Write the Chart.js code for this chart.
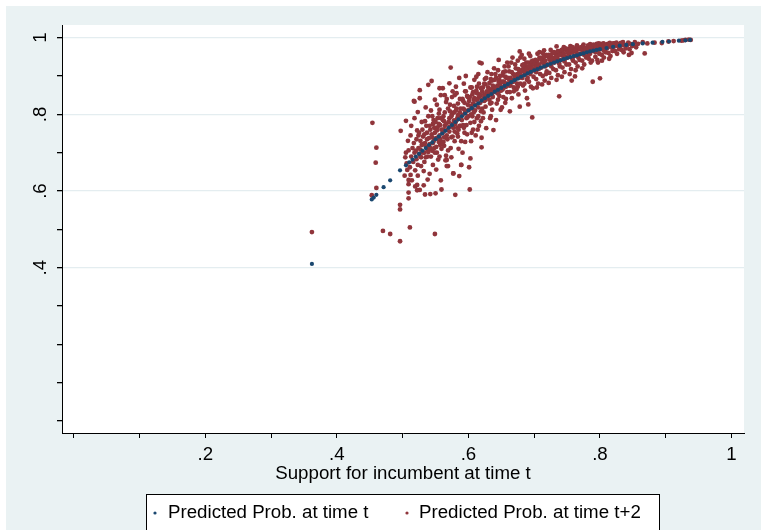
<!DOCTYPE html>
<html>
<head>
<meta charset="utf-8">
<script src="https://cdn.jsdelivr.net/npm/chart.js@4.4.1/dist/chart.umd.min.js"></script>
<style>
  body { margin: 0; background: #fff; }
  canvas { display: block; }
</style>
</head>
<body>
<canvas id="probChart" width="761" height="530"></canvas>
<script>
// Tick values and the ones that get a label / grid line
const xTicks = [0, 0.1, 0.2, 0.3, 0.4, 0.5, 0.6, 0.7, 0.8, 0.9, 1];
const xLabeled = [0.2, 0.4, 0.6, 0.8, 1];
const yTicks = [0, 0.1, 0.2, 0.3, 0.4, 0.5, 0.6, 0.7, 0.8, 0.9, 1];
const yLabeled = [0.4, 0.6, 0.8, 1];

const seriesNames = ['Predicted Prob. at time t', 'Predicted Prob. at time t+2'];

// Predicted prob. at time t  [support, prob]
const probT = [
    [0.362, 0.410], [0.453, 0.578], [0.456, 0.583], [0.460, 0.590], [0.471, 0.610], [0.481, 0.628], [0.496, 0.654],
    [0.505, 0.667], [0.510, 0.675], [0.515, 0.682], [0.520, 0.690], [0.525, 0.697], [0.530, 0.705], [0.535, 0.712],
    [0.540, 0.720], [0.545, 0.727], [0.550, 0.735], [0.555, 0.742], [0.560, 0.750], [0.565, 0.757], [0.570, 0.765],
    [0.575, 0.772], [0.580, 0.780], [0.585, 0.787], [0.590, 0.795], [0.595, 0.802], [0.600, 0.810], [0.605, 0.816],
    [0.610, 0.823], [0.615, 0.829], [0.620, 0.836], [0.625, 0.842], [0.630, 0.848], [0.635, 0.853], [0.640, 0.859],
    [0.645, 0.864], [0.650, 0.869], [0.655, 0.874], [0.660, 0.879], [0.665, 0.884], [0.670, 0.889], [0.675, 0.893],
    [0.680, 0.898], [0.685, 0.902], [0.690, 0.907], [0.695, 0.911], [0.700, 0.915], [0.705, 0.918], [0.710, 0.922],
    [0.715, 0.925], [0.720, 0.929], [0.725, 0.932], [0.730, 0.935], [0.735, 0.938], [0.740, 0.941], [0.745, 0.944],
    [0.750, 0.947], [0.755, 0.949], [0.760, 0.952], [0.765, 0.954], [0.770, 0.957], [0.775, 0.959], [0.780, 0.962],
    [0.785, 0.964], [0.790, 0.966], [0.795, 0.968], [0.800, 0.970], [0.810, 0.973], [0.820, 0.976], [0.830, 0.979],
    [0.840, 0.981], [0.850, 0.983], [0.865, 0.985], [0.880, 0.987], [0.895, 0.989], [0.905, 0.990], [0.920, 0.992],
    [0.930, 0.993], [0.937, 0.994]
];

// Predicted prob. at time t+2  [support, prob]
const probT2 = [
    [0.362, 0.493], [0.454, 0.778], [0.460, 0.713], [0.459, 0.674], [0.460, 0.608], [0.453, 0.589], [0.470, 0.496],
    [0.481, 0.488], [0.496, 0.469], [0.496, 0.564], [0.496, 0.552], [0.511, 0.505], [0.549, 0.488], [0.509, 0.596],
    [0.509, 0.581], [0.497, 0.757], [0.505, 0.783], [0.518, 0.790], [0.522, 0.616], [0.526, 0.603], [0.534, 0.591],
    [0.550, 0.594], [0.559, 0.604], [0.509, 0.629], [0.512, 0.642], [0.580, 0.590], [0.577, 0.646], [0.589, 0.668],
    [0.567, 0.681], [0.569, 0.665], [0.539, 0.877], [0.556, 0.868], [0.526, 0.842], [0.518, 0.833],
    [0.503, 0.640], [0.505, 0.700], [0.506, 0.672], [0.507, 0.655], [0.508, 0.731], [0.509, 0.618], [0.504, 0.688], [0.509, 0.706],
    [0.511, 0.662], [0.512, 0.745], [0.513, 0.690], [0.514, 0.628], [0.515, 0.712], [0.516, 0.676], [0.517, 0.835], [0.518, 0.700],
    [0.519, 0.654], [0.513, 0.770], [0.517, 0.725], [0.519, 0.612],
    [0.521, 0.683], [0.522, 0.758], [0.523, 0.640], [0.524, 0.712], [0.525, 0.697], [0.526, 0.863], [0.527, 0.731], [0.528, 0.665],
    [0.529, 0.780], [0.522, 0.602], [0.524, 0.745], [0.527, 0.690], [0.529, 0.720], [0.523, 0.806],
    [0.531, 0.700], [0.532, 0.652], [0.533, 0.748], [0.534, 0.725], [0.535, 0.688], [0.536, 0.770], [0.537, 0.710], [0.538, 0.630],
    [0.539, 0.795], [0.531, 0.742], [0.533, 0.676], [0.535, 0.818], [0.537, 0.735], [0.539, 0.702], [0.532, 0.615],
    [0.541, 0.722], [0.542, 0.760], [0.543, 0.690], [0.544, 0.887], [0.545, 0.740], [0.546, 0.668], [0.547, 0.785], [0.548, 0.712],
    [0.549, 0.752], [0.541, 0.645], [0.543, 0.810], [0.545, 0.705], [0.547, 0.730], [0.549, 0.838], [0.542, 0.592], [0.546, 0.775],
    [0.551, 0.738], [0.552, 0.700], [0.553, 0.766], [0.554, 0.682], [0.555, 0.802], [0.556, 0.745], [0.557, 0.720], [0.558, 0.850],
    [0.559, 0.760], [0.551, 0.656], [0.553, 0.790], [0.555, 0.728], [0.557, 0.772], [0.559, 0.710], [0.552, 0.825], [0.556, 0.690],
    [0.558, 0.628],
    [0.561, 0.752], [0.562, 0.795], [0.563, 0.718], [0.564, 0.770], [0.565, 0.680], [0.566, 0.832], [0.567, 0.745], [0.568, 0.760],
    [0.569, 0.706], [0.561, 0.868], [0.563, 0.782], [0.565, 0.740], [0.567, 0.665], [0.569, 0.815], [0.562, 0.728], [0.564, 0.850],
    [0.566, 0.692],
    [0.571, 0.881], [0.572, 0.768], [0.573, 0.922], [0.574, 0.740], [0.575, 0.800], [0.576, 0.776], [0.577, 0.646], [0.578, 0.822],
    [0.579, 0.755], [0.571, 0.790], [0.573, 0.712], [0.575, 0.845], [0.577, 0.765], [0.579, 0.730], [0.572, 0.808], [0.574, 0.688],
    [0.576, 0.860], [0.578, 0.784],
    [0.581, 0.782], [0.582, 0.815], [0.583, 0.750], [0.584, 0.798], [0.585, 0.710], [0.586, 0.639], [0.587, 0.840], [0.588, 0.770],
    [0.589, 0.668], [0.581, 0.872], [0.583, 0.790], [0.585, 0.760], [0.587, 0.805], [0.589, 0.730], [0.582, 0.855], [0.584, 0.742],
    [0.586, 0.895],
    [0.591, 0.798], [0.592, 0.835], [0.593, 0.765], [0.594, 0.812], [0.595, 0.728], [0.596, 0.860], [0.597, 0.790], [0.598, 0.748],
    [0.599, 0.825], [0.591, 0.700], [0.593, 0.880], [0.595, 0.805], [0.597, 0.772], [0.599, 0.845], [0.592, 0.815], [0.594, 0.752],
    [0.596, 0.900], [0.598, 0.792],
    [0.601, 0.662], [0.602, 0.604], [0.603, 0.685], [0.601, 0.812], [0.602, 0.845], [0.603, 0.778], [0.604, 0.822], [0.605, 0.870],
    [0.606, 0.795], [0.607, 0.760], [0.608, 0.838], [0.609, 0.890], [0.604, 0.730], [0.606, 0.815], [0.608, 0.805], [0.605, 0.752],
    [0.607, 0.858], [0.609, 0.780],
    [0.611, 0.825], [0.612, 0.862], [0.613, 0.790], [0.614, 0.840], [0.615, 0.905], [0.616, 0.770], [0.617, 0.935], [0.618, 0.830],
    [0.619, 0.808], [0.611, 0.745], [0.613, 0.872], [0.615, 0.818], [0.617, 0.852], [0.619, 0.782], [0.612, 0.898], [0.614, 0.760],
    [0.616, 0.845],
    [0.620, 0.714], [0.620, 0.739], [0.620, 0.933], [0.621, 0.838], [0.622, 0.870], [0.623, 0.805], [0.624, 0.852], [0.625, 0.892],
    [0.626, 0.820], [0.627, 0.764], [0.628, 0.860], [0.629, 0.910], [0.622, 0.790], [0.624, 0.835], [0.626, 0.878], [0.628, 0.845],
    [0.621, 0.815],
    [0.633, 0.790], [0.638, 0.759], [0.631, 0.850], [0.632, 0.882], [0.633, 0.828], [0.634, 0.865], [0.635, 0.905], [0.636, 0.812],
    [0.637, 0.845], [0.638, 0.872], [0.639, 0.920], [0.632, 0.838], [0.634, 0.795], [0.636, 0.888], [0.638, 0.858], [0.635, 0.830],
    [0.641, 0.860], [0.642, 0.895], [0.643, 0.828], [0.644, 0.875], [0.645, 0.915], [0.646, 0.942], [0.647, 0.848], [0.648, 0.880],
    [0.649, 0.812], [0.641, 0.905], [0.643, 0.866], [0.645, 0.838], [0.647, 0.890], [0.649, 0.870], [0.642, 0.785], [0.646, 0.858],
    [0.651, 0.870], [0.652, 0.902], [0.653, 0.845], [0.654, 0.885], [0.655, 0.925], [0.656, 0.830], [0.657, 0.872], [0.658, 0.895],
    [0.659, 0.858], [0.651, 0.818], [0.653, 0.910], [0.655, 0.880], [0.657, 0.840], [0.659, 0.935], [0.652, 0.865], [0.656, 0.898],
    [0.661, 0.880], [0.662, 0.912], [0.663, 0.858], [0.664, 0.895], [0.665, 0.935], [0.666, 0.842], [0.667, 0.885], [0.668, 0.905],
    [0.669, 0.870], [0.661, 0.925], [0.663, 0.808], [0.665, 0.890], [0.667, 0.948], [0.669, 0.860], [0.662, 0.875],
    [0.671, 0.890], [0.672, 0.920], [0.673, 0.865], [0.674, 0.905], [0.675, 0.940], [0.676, 0.852], [0.677, 0.895], [0.678, 0.964],
    [0.678, 0.820], [0.679, 0.880], [0.671, 0.930], [0.673, 0.900], [0.675, 0.872], [0.677, 0.915], [0.679, 0.948],
    [0.681, 0.900], [0.682, 0.928], [0.683, 0.875], [0.684, 0.912], [0.685, 0.945], [0.686, 0.862], [0.687, 0.905], [0.688, 0.935],
    [0.689, 0.890], [0.681, 0.955], [0.683, 0.918], [0.685, 0.880], [0.687, 0.925], [0.689, 0.842], [0.691, 0.826],
    [0.690, 0.908], [0.691, 0.935], [0.692, 0.885], [0.693, 0.920], [0.694, 0.952], [0.695, 0.872], [0.696, 0.912], [0.697, 0.792],
    [0.698, 0.940], [0.699, 0.898], [0.692, 0.958], [0.694, 0.905], [0.696, 0.930], [0.698, 0.868], [0.695, 0.922],
    [0.701, 0.915], [0.702, 0.942], [0.703, 0.892], [0.704, 0.928], [0.705, 0.958], [0.706, 0.880], [0.707, 0.918], [0.708, 0.948],
    [0.709, 0.905], [0.702, 0.935], [0.704, 0.870], [0.706, 0.925], [0.708, 0.962], [0.703, 0.910],
    [0.711, 0.922], [0.712, 0.948], [0.713, 0.900], [0.714, 0.935], [0.715, 0.967], [0.716, 0.888], [0.717, 0.925], [0.718, 0.955],
    [0.719, 0.912], [0.712, 0.878], [0.714, 0.942], [0.716, 0.930], [0.718, 0.905], [0.713, 0.960],
    [0.721, 0.930], [0.722, 0.955], [0.723, 0.908], [0.724, 0.942], [0.725, 0.968], [0.726, 0.895], [0.727, 0.935], [0.728, 0.960],
    [0.729, 0.918], [0.722, 0.882], [0.724, 0.948], [0.726, 0.925], [0.728, 0.940],
    [0.731, 0.935], [0.732, 0.960], [0.733, 0.915], [0.734, 0.977], [0.735, 0.948], [0.736, 0.902], [0.737, 0.940], [0.738, 0.847],
    [0.738, 0.965], [0.739, 0.925], [0.732, 0.945], [0.734, 0.890], [0.736, 0.955], [0.738, 0.932],
    [0.741, 0.942], [0.742, 0.965], [0.743, 0.922], [0.744, 0.952], [0.745, 0.975], [0.746, 0.910], [0.747, 0.945], [0.748, 0.968],
    [0.749, 0.930], [0.742, 0.898], [0.744, 0.958], [0.746, 0.938], [0.748, 0.950],
    [0.751, 0.948], [0.752, 0.970], [0.753, 0.930], [0.754, 0.958], [0.755, 0.978], [0.756, 0.918], [0.757, 0.888], [0.758, 0.962],
    [0.759, 0.940], [0.752, 0.955], [0.754, 0.905], [0.756, 0.972], [0.758, 0.945],
    [0.762, 0.899], [0.761, 0.952], [0.762, 0.972], [0.763, 0.935], [0.764, 0.962], [0.765, 0.980], [0.766, 0.925], [0.767, 0.955],
    [0.768, 0.970], [0.769, 0.942], [0.763, 0.915], [0.765, 0.958], [0.767, 0.948],
    [0.771, 0.958], [0.772, 0.975], [0.773, 0.940], [0.774, 0.966], [0.775, 0.982], [0.776, 0.930], [0.777, 0.960], [0.778, 0.972],
    [0.779, 0.948], [0.773, 0.920], [0.776, 0.955], [0.778, 0.968],
    [0.781, 0.962], [0.782, 0.978], [0.783, 0.945], [0.784, 0.970], [0.785, 0.983], [0.786, 0.935], [0.787, 0.965], [0.788, 0.975],
    [0.789, 0.885], [0.782, 0.952], [0.785, 0.958], [0.788, 0.940],
    [0.791, 0.966], [0.792, 0.980], [0.793, 0.950], [0.794, 0.972], [0.795, 0.984], [0.796, 0.942], [0.797, 0.968], [0.798, 0.977],
    [0.799, 0.958], [0.800, 0.894], [0.800, 0.984], [0.793, 0.962], [0.797, 0.935],
    [0.801, 0.970], [0.802, 0.982], [0.803, 0.955], [0.804, 0.975], [0.805, 0.985], [0.806, 0.948], [0.807, 0.972], [0.808, 0.980],
    [0.809, 0.962], [0.803, 0.940], [0.806, 0.966],
    [0.811, 0.973], [0.812, 0.984], [0.813, 0.960], [0.814, 0.978], [0.815, 0.986], [0.816, 0.952], [0.817, 0.975], [0.818, 0.982],
    [0.819, 0.965], [0.814, 0.945],
    [0.821, 0.976], [0.822, 0.985], [0.823, 0.965], [0.824, 0.980], [0.825, 0.987], [0.826, 0.958], [0.827, 0.978], [0.828, 0.983],
    [0.829, 0.970],
    [0.831, 0.978], [0.832, 0.986], [0.833, 0.968], [0.834, 0.982], [0.835, 0.988], [0.836, 0.962], [0.837, 0.980], [0.839, 0.972],
    [0.841, 0.980], [0.843, 0.987], [0.844, 0.955], [0.845, 0.970], [0.846, 0.984], [0.848, 0.960], [0.849, 0.978], [0.851, 0.982],
    [0.853, 0.988], [0.855, 0.975], [0.858, 0.984],
    [0.865, 0.988], [0.868, 0.959], [0.872, 0.985], [0.883, 0.987], [0.894, 0.986], [0.904, 0.990], [0.912, 0.991], [0.924, 0.992],
    [0.930, 0.994], [0.938, 0.994], [0.927, 0.993], [0.935, 0.995],
    // denser core of the cloud
    [0.520, 0.705], [0.521, 0.735], [0.523, 0.668], [0.525, 0.752], [0.527, 0.708], [0.528, 0.688], [0.530, 0.760], [0.531, 0.722],
    [0.533, 0.700], [0.534, 0.782], [0.536, 0.715], [0.537, 0.752], [0.538, 0.690], [0.540, 0.738], [0.541, 0.770], [0.542, 0.712],
    [0.544, 0.748], [0.545, 0.795], [0.546, 0.725], [0.548, 0.765], [0.549, 0.700], [0.550, 0.780], [0.551, 0.715], [0.552, 0.758],
    [0.554, 0.740], [0.555, 0.775], [0.556, 0.812], [0.557, 0.735], [0.558, 0.790], [0.560, 0.725], [0.561, 0.785], [0.562, 0.760],
    [0.563, 0.740], [0.564, 0.805], [0.566, 0.775], [0.567, 0.840], [0.568, 0.735], [0.570, 0.780], [0.571, 0.755], [0.572, 0.825],
    [0.574, 0.795], [0.575, 0.770], [0.576, 0.742], [0.578, 0.805], [0.579, 0.850], [0.580, 0.775], [0.581, 0.810], [0.583, 0.765],
    [0.584, 0.828], [0.586, 0.790], [0.587, 0.770], [0.588, 0.815], [0.590, 0.785], [0.591, 0.840], [0.592, 0.772], [0.594, 0.830],
    [0.595, 0.860], [0.597, 0.808], [0.598, 0.848], [0.600, 0.795], [0.601, 0.835], [0.603, 0.870], [0.604, 0.800], [0.606, 0.852],
    [0.607, 0.828], [0.609, 0.842], [0.610, 0.810], [0.612, 0.838], [0.613, 0.855], [0.615, 0.795], [0.616, 0.880], [0.618, 0.850],
    [0.619, 0.868], [0.621, 0.860], [0.623, 0.842], [0.624, 0.880], [0.626, 0.838], [0.627, 0.895], [0.629, 0.852], [0.630, 0.870],
    [0.632, 0.860], [0.634, 0.892], [0.636, 0.850], [0.637, 0.875], [0.639, 0.865], [0.640, 0.890], [0.642, 0.870], [0.644, 0.855],
    [0.646, 0.885], [0.648, 0.900], [0.650, 0.862], [0.652, 0.885], [0.654, 0.870], [0.656, 0.912], [0.658, 0.880], [0.660, 0.895],
    [0.662, 0.890], [0.664, 0.875], [0.666, 0.910], [0.668, 0.885], [0.670, 0.900], [0.672, 0.895], [0.674, 0.880], [0.676, 0.918],
    [0.678, 0.905], [0.680, 0.912], [0.682, 0.895], [0.684, 0.930], [0.686, 0.908], [0.688, 0.918], [0.690, 0.895], [0.692, 0.925],
    [0.694, 0.915], [0.696, 0.938], [0.698, 0.920], [0.700, 0.930], [0.703, 0.925], [0.705, 0.940], [0.707, 0.930], [0.710, 0.945],
    [0.712, 0.935], [0.715, 0.950], [0.717, 0.940], [0.720, 0.952], [0.723, 0.945], [0.725, 0.955], [0.728, 0.948], [0.730, 0.962],
    [0.733, 0.950], [0.736, 0.965], [0.739, 0.955], [0.742, 0.968], [0.745, 0.958], [0.748, 0.972], [0.751, 0.962], [0.755, 0.968],
    [0.758, 0.975], [0.762, 0.966], [0.766, 0.976], [0.770, 0.970], [0.774, 0.978], [0.778, 0.972], [0.782, 0.980], [0.786, 0.975],
    [0.790, 0.982], [0.794, 0.978], [0.798, 0.985], [0.802, 0.978], [0.806, 0.984], [0.810, 0.980], [0.815, 0.983], [0.820, 0.985],
    [0.826, 0.982], [0.832, 0.985]
];

const NAVY = '#1a476f';
const MAROON = '#90353b';
const BG = '#eaf2f3';
const FONT = "'Liberation Sans', Arial, sans-serif";

function fmt(v) {
    return String(v).replace(/^0\./, '.');
}

function isLabeled(list, v) {
    return list.some(l => Math.abs(l - v) < 1e-9);
}

// graph region + plot region backgrounds, legend box
const stataLook = {
    id: 'stataLook',
    beforeDraw(chart) {
        const { ctx, chartArea } = chart;
        ctx.save();
        ctx.fillStyle = '#fff';
        ctx.fillRect(0, 0, chart.width, chart.height);
        ctx.fillStyle = BG;
        ctx.fillRect(6, 6, chart.width - 6, chart.height - 6);
        ctx.fillStyle = '#fff';
        ctx.fillRect(chartArea.left, chartArea.top, chartArea.right - chartArea.left, chartArea.bottom - chartArea.top);
        ctx.restore();
    },
    afterDraw(chart) {
        const ctx = chart.ctx;
        ctx.save();
        ctx.fillStyle = '#fff';
        ctx.fillRect(146.5, 494.5, 513, 50);
        ctx.strokeStyle = '#000';
        ctx.lineWidth = 1;
        ctx.strokeRect(146.5, 494.5, 513, 50);

        ctx.font = '18.7px ' + FONT;
        ctx.textBaseline = 'middle';
        const items = [
            { color: NAVY, dot: 155, text: 168 },
            { color: MAROON, dot: 407, text: 419 }
        ];
        items.forEach((it, i) => {
            ctx.beginPath();
            ctx.fillStyle = it.color;
            ctx.arc(it.dot, 513, 1.6, 0, Math.PI * 2);
            ctx.fill();
            ctx.fillStyle = '#000';
            ctx.fillText(seriesNames[i], it.text, 513);
        });
        ctx.restore();
    }
};

const ctx = document.getElementById('probChart').getContext('2d');
new Chart(ctx, {
    type: 'scatter',
    data: {
        datasets: [
            {
                label: seriesNames[0],
                data: probT.map(p => ({ x: p[0], y: p[1] })),
                backgroundColor: NAVY,
                borderWidth: 0,
                pointRadius: 2.1
            },
            {
                label: seriesNames[1],
                data: probT2.map(p => ({ x: p[0], y: p[1] })),
                backgroundColor: MAROON,
                borderWidth: 0,
                pointRadius: 2.4
            }
        ]
    },
    options: {
        responsive: false,
        animation: false,
        layout: { padding: { left: 6, top: 25, right: 17, bottom: 40 } },
        plugins: {
            legend: { display: false },
            tooltip: { enabled: false }
        },
        scales: {
            x: {
                type: 'linear',
                min: -0.018,
                max: 1.019,
                afterBuildTicks: scale => { scale.ticks = xTicks.map(v => ({ value: v })); },
                afterFit: scale => { scale.height = 57; },
                border: { color: '#000', width: 1 },
                grid: { drawOnChartArea: false, tickLength: 5, tickColor: '#000' },
                ticks: {
                    autoSkip: false,
                    maxRotation: 0,
                    padding: 6,
                    color: '#000',
                    font: { family: FONT, size: 18.7 },
                    callback: v => isLabeled(xLabeled, v) ? fmt(v) : ''
                },
                title: {
                    display: true,
                    text: 'Support for incumbent at time t',
                    color: '#000',
                    font: { family: FONT, size: 18.7 },
                    padding: { top: 0, bottom: 5 }
                }
            },
            y: {
                type: 'linear',
                min: -0.031,
                max: 1.033,
                afterBuildTicks: scale => { scale.ticks = yTicks.map(v => ({ value: v })); },
                afterFit: scale => { scale.width = 56; },
                border: { color: '#000', width: 1 },
                grid: {
                    tickLength: 5,
                    tickColor: '#000',
                    lineWidth: 1.3,
                    color: c => (c.tick && isLabeled(yLabeled, c.tick.value)) ? '#e4edf0' : 'rgba(0,0,0,0)'
                },
                ticks: {
                    autoSkip: false,
                    minRotation: 90,
                    maxRotation: 90,
                    crossAlign: 'center',
                    padding: 8,
                    color: '#000',
                    font: { family: FONT, size: 18.7 },
                    callback: v => isLabeled(yLabeled, v) ? fmt(v) : ''
                }
            }
        }
    },
    plugins: [stataLook]
});
</script>
</body>
</html>
